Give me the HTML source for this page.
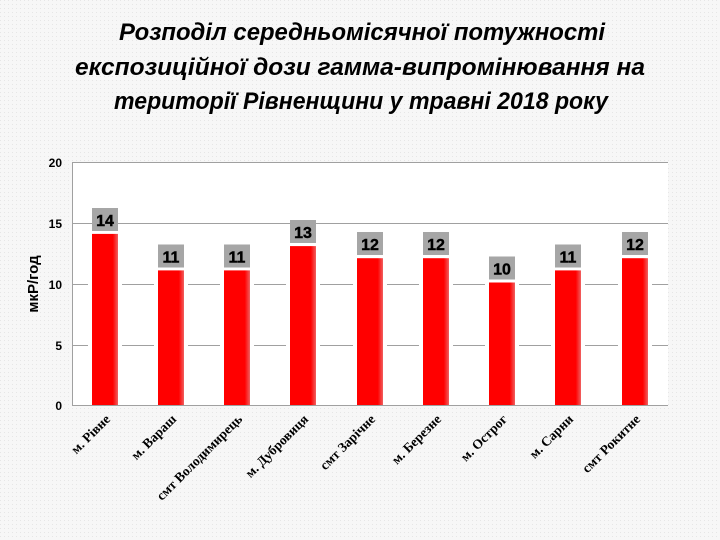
<!DOCTYPE html>
<html><head><meta charset="utf-8"><style>
html,body{margin:0;padding:0;width:720px;height:540px;overflow:hidden;background:#f5f5f5;}
</style></head><body>
<svg width="720" height="540" xmlns="http://www.w3.org/2000/svg">
<defs>
<pattern id="dots" width="4" height="4" patternUnits="userSpaceOnUse">
<rect width="4" height="4" fill="#f7f7f7"/><rect width="1" height="1" fill="#e6e6e6"/>
</pattern>
<linearGradient id="bar" x1="0" x2="1" y1="0" y2="0">
<stop offset="0" stop-color="#ff0000"/><stop offset="0.8" stop-color="#ff0000"/><stop offset="1" stop-color="#f06060"/>
</linearGradient>
</defs>
<rect width="720" height="540" fill="url(#dots)"/>
<g font-family="'Liberation Sans', sans-serif" font-style="italic" font-weight="bold" font-size="24.5" text-anchor="middle" fill="#000">
<text x="362" y="40" textLength="486" lengthAdjust="spacingAndGlyphs">Розподіл середньомісячної потужності</text>
<text x="360" y="75" textLength="570" lengthAdjust="spacingAndGlyphs">експозиційної дози гамма-випромінювання на</text>
<text x="361" y="109" textLength="494" lengthAdjust="spacingAndGlyphs">території Рівненщини у травні 2018 року</text>
</g>
<rect x="72" y="162" width="596" height="243" fill="#fff"/>
<g stroke="#a0a0a0" stroke-width="1">
<line x1="72" y1="162.5" x2="668" y2="162.5"/>
<line x1="72" y1="223.5" x2="668" y2="223.5"/>
<line x1="72" y1="284.5" x2="668" y2="284.5"/>
<line x1="72" y1="345.5" x2="668" y2="345.5"/>
<line x1="72" y1="405.5" x2="668" y2="405.5"/>
<line x1="72.5" y1="162" x2="72.5" y2="405"/>
</g>
<g font-family="'Liberation Sans', sans-serif" font-weight="bold" font-size="12" text-anchor="end">
<text x="62" y="167">20</text><text x="62" y="228">15</text><text x="62" y="289">10</text><text x="62" y="350">5</text><text x="62" y="410">0</text>
</g>
<text transform="translate(38,284) rotate(-90)" font-family="'Liberation Sans', sans-serif" font-weight="bold" font-size="15" text-anchor="middle">мкР/год</text>
<g font-family="'Liberation Sans', sans-serif" font-weight="bold" font-size="16" text-anchor="middle" stroke="#000" stroke-width="0.4">
<rect x="88" y="233.9" width="34" height="171.1" fill="#fff" stroke="none"/><rect x="92" y="233.9" width="26" height="171.1" fill="url(#bar)" stroke="none"/>
<rect x="92" y="208" width="26" height="23" fill="#a6a6a6" stroke="none"/><text x="105" y="226">14</text>

<rect x="154" y="270.4" width="34" height="134.6" fill="#fff" stroke="none"/><rect x="158" y="270.4" width="26" height="134.6" fill="url(#bar)" stroke="none"/>
<rect x="158" y="244.5" width="26" height="23" fill="#a6a6a6" stroke="none"/><text x="171" y="262.5">11</text>

<rect x="220" y="270.4" width="34" height="134.6" fill="#fff" stroke="none"/><rect x="224" y="270.4" width="26" height="134.6" fill="url(#bar)" stroke="none"/>
<rect x="224" y="244.5" width="26" height="23" fill="#a6a6a6" stroke="none"/><text x="237" y="262.5">11</text>

<rect x="286" y="246.1" width="34" height="158.9" fill="#fff" stroke="none"/><rect x="290" y="246.1" width="26" height="158.9" fill="url(#bar)" stroke="none"/>
<rect x="290" y="220" width="26" height="23" fill="#a6a6a6" stroke="none"/><text x="303" y="238">13</text>

<rect x="353" y="258.2" width="34" height="146.8" fill="#fff" stroke="none"/><rect x="357" y="258.2" width="26" height="146.8" fill="url(#bar)" stroke="none"/>
<rect x="357" y="232" width="26" height="23" fill="#a6a6a6" stroke="none"/><text x="370" y="250">12</text>

<rect x="419" y="258.2" width="34" height="146.8" fill="#fff" stroke="none"/><rect x="423" y="258.2" width="26" height="146.8" fill="url(#bar)" stroke="none"/>
<rect x="423" y="232" width="26" height="23" fill="#a6a6a6" stroke="none"/><text x="436" y="250">12</text>

<rect x="485" y="282.5" width="34" height="122.5" fill="#fff" stroke="none"/><rect x="489" y="282.5" width="26" height="122.5" fill="url(#bar)" stroke="none"/>
<rect x="489" y="256.5" width="26" height="23" fill="#a6a6a6" stroke="none"/><text x="502" y="274.5">10</text>

<rect x="551" y="270.4" width="34" height="134.6" fill="#fff" stroke="none"/><rect x="555" y="270.4" width="26" height="134.6" fill="url(#bar)" stroke="none"/>
<rect x="555" y="244.5" width="26" height="23" fill="#a6a6a6" stroke="none"/><text x="568" y="262.5">11</text>

<rect x="618" y="258.2" width="34" height="146.8" fill="#fff" stroke="none"/><rect x="622" y="258.2" width="26" height="146.8" fill="url(#bar)" stroke="none"/>
<rect x="622" y="232" width="26" height="23" fill="#a6a6a6" stroke="none"/><text x="635" y="250">12</text>
</g>
<g font-family="'Liberation Serif', serif" font-weight="bold" font-size="13.5" text-anchor="end" fill="#000">
<text transform="translate(111,420) rotate(-45)">м. Рівне</text>
<text transform="translate(177,420) rotate(-45)">м. Вараш</text>
<text transform="translate(243,420) rotate(-45)">смт Володимирець</text>
<text transform="translate(309,420) rotate(-45)">м. Дубровиця</text>
<text transform="translate(376,420) rotate(-45)">смт Зарічне</text>
<text transform="translate(442,420) rotate(-45)">м. Березне</text>
<text transform="translate(508,420) rotate(-45)">м. Острог</text>
<text transform="translate(574,420) rotate(-45)">м. Сарни</text>
<text transform="translate(641,420) rotate(-45)">смт Рокитне</text>
</g>
</svg>
</body></html>
